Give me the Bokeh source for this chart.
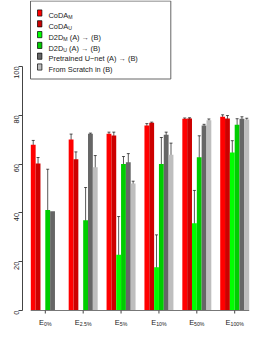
import math
from bokeh.plotting import figure
from bokeh.models import ColumnDataSource, LinearAxis, FixedTicker, Whisker, TeeHead, Range1d
from bokeh.core.properties import value
from bokeh.embed import file_html
from bokeh.resources import INLINE

NaN = float("nan")

# ---------------- data ----------------
group_subs = ["0%", "2.5%", "5%", "10%", "50%", "100%"]

coda_m = [67.9, 70.1, 72.4, 75.8, 78.6, 79.4]
coda_m_err = [1.8, 2.2, 0.7, 0.8, 0.3, 0.8]
coda_u = [60.2, 62.0, 71.7, 76.9, 78.7, 78.7]
coda_u_err = [2.5, 3.0, 1.4, 0.3, 0.3, 1.2]
d2d_m = [NaN, NaN, 22.8, 17.7, 35.8, 64.8]
d2d_m_err = [NaN, NaN, 15.7, 13.3, 13.4, 4.8]
d2d_u = [41.2, 37.0, 60.0, 60.0, 62.8, 76.1]
d2d_u_err = [16.7, 13.4, 3.1, 10.9, 8.8, 2.5]
pretrained = [40.7, 72.4, 60.8, 72.0, 75.8, 78.6]
pretrained_err = [0.0, 0.3, 3.5, 1.1, 0.5, 0.8]
scratch = [NaN, 58.7, 52.0, 63.8, 78.0, 78.3]
scratch_err = [NaN, 4.8, 1.0, 4.8, 0.5, 0.5]

series_values = [coda_m, coda_u, d2d_m, d2d_u, pretrained, scratch]
series_errors = [coda_m_err, coda_u_err, d2d_m_err, d2d_u_err, pretrained_err, scratch_err]
series_colors = ["#FF0000", "#CD0000", "#00FF00", "#00CD00", "#666666", "#BEBEBE"]
# legend labels: (main, subscript, tail)
legend_parts = [("CoDA", "M", ""), ("CoDA", "U", ""),
                ("D2D", "M", "(A) \u2192 (B)"), ("D2D", "U", "(A) \u2192 (B)"),
                ("Pretrained U\u2212net (A) \u2192 (B)", "", ""),
                ("From Scratch in (B)", "", "")]
y_ticks = [0, 20, 40, 60, 80, 100]

# ---------------- geometry ----------------
W, H = 250, 328
FRAME_L = 22
PX_PER_X = 37.88
PX_PER_Y = 2.44
G1_PX = 44.8
TOP100_PX = 66
X0 = 1 - (G1_PX - FRAME_L) / PX_PER_X
X1 = X0 + (W - FRAME_L) / PX_PER_X
Y1 = 100 + TOP100_PX / PX_PER_Y
Y0 = Y1 - H / PX_PER_Y
BAR_W = 4.83 / PX_PER_X
FONT = "Liberation Sans"
FS_MAIN = 7.4
FS_SUB = 5.2

def px2x(fx):
    return X0 + (fx - FRAME_L) / PX_PER_X

def px2y(fy):
    return Y1 - fy / PX_PER_Y

ARIAL = {'0': 556, '1': 556, '2': 556, '5': 556, '%': 889, '.': 278, 'E': 667, 'C': 722,
         'o': 556, 'D': 722, 'A': 667, 'M': 833, 'U': 722, ' ': 278}

def tw(s, fs):
    return sum(ARIAL.get(c, 556) for c in s) / 1000.0 * fs

p = figure(width=W, height=H, output_backend="svg", toolbar_location=None,
           x_axis_type=None, y_axis_type=None,
           x_range=Range1d(X0, X1), y_range=Range1d(Y0, Y1),
           min_border_left=FRAME_L, min_border_right=0, min_border_top=0, min_border_bottom=0)
p.outline_line_color = None
p.xgrid.visible = False
p.ygrid.visible = False
p.background_fill_color = "white"
p.border_fill_color = "white"

n_groups = len(group_subs)
centers = [g + 1 for g in range(n_groups)]

# bars + error bars
for j, (vals, errs, col) in enumerate(zip(series_values, series_errors, series_colors)):
    xs, tops = [], []
    ex, eu, el = [], [], []
    for g in range(n_groups):
        v = vals[g]
        if v != v:
            continue
        x = centers[g] + (j - 2.5) * BAR_W
        xs.append(x)
        tops.append(v)
        e = errs[g]
        if e == e and e > 0:
            ex.append(x)
            eu.append(v + e)
            el.append(v - e)
    p.vbar(x=xs, top=tops, bottom=0, width=BAR_W, fill_color=col, line_color=None)
    if ex:
        esrc = ColumnDataSource(dict(x=ex, upper=eu, lower=el))
        w = Whisker(source=esrc, base="x", upper="upper", lower="lower",
                    line_color="black", line_alpha=0.65, line_width=1,
                    upper_head=TeeHead(size=3, line_color="black", line_alpha=0.65, line_width=1),
                    lower_head=TeeHead(size=3, line_color="black", line_alpha=0.65, line_width=1))
        p.add_layout(w)

# y axis
yax = LinearAxis(ticker=FixedTicker(ticks=y_ticks), bounds=(0, 100))
yax.axis_line_color = "#444444"
yax.major_tick_line_color = "#444444"
yax.major_tick_out = 4
yax.major_tick_in = 0
yax.minor_tick_out = 0
yax.minor_tick_in = 0
yax.major_label_standoff = 2
yax.major_label_orientation = math.pi / 2
yax.major_label_text_font = FONT
yax.major_label_text_font_size = "7.4px"
yax.major_label_text_color = "#222222"
p.add_layout(yax, "left")

# x axis line and ticks
left_edge = centers[0] - 3 * BAR_W
right_edge = centers[-1] + 3 * BAR_W
y_zero_px = TOP100_PX + 100 * PX_PER_Y
p.segment(x0=[left_edge], y0=[0], x1=[right_edge], y1=[0], line_color="#777777", line_width=1)
p.segment(x0=centers, y0=[0] * n_groups, x1=centers, y1=[px2y(y_zero_px + 3)] * n_groups,
          line_color="#444444", line_width=1)

# x labels: E with subscript
ex_x, ex_t, sx_x, sx_t = [], [], [], []
for g, sub in enumerate(group_subs):
    total = tw("E", FS_MAIN) + tw(sub, FS_SUB)
    start = centers[g] - (total / 2) / PX_PER_X
    ex_x.append(start)
    ex_t.append("E")
    sx_x.append(start + tw("E", FS_MAIN) / PX_PER_X)
    sx_t.append(sub)
p.text(x=ex_x, y=[px2y(y_zero_px + 11.7)] * n_groups, text=ex_t, text_font=value(FONT),
       text_font_size=value("7.4px"), text_baseline="alphabetic", text_align="left",
       text_color="#222222")
p.text(x=sx_x, y=[px2y(y_zero_px + 13.2)] * n_groups, text=sx_t, text_font=value(FONT),
       text_font_size=value("5.2px"), text_baseline="alphabetic", text_align="left",
       text_color="#222222")

# legend (drawn manually so that subscripts are possible)
p.quad(left=[px2x(30)], right=[px2x(170.3)], top=[px2y(0.5)], bottom=[px2y(78.5)],
       fill_color="white", line_color="#666666", line_width=1)
row_y = [12.5 + 10.8 * i for i in range(len(legend_parts))]
p.quad(left=[px2x(37)] * 6, right=[px2x(41.4)] * 6,
       top=[px2y(y - 3.1) for y in row_y], bottom=[px2y(y + 3.1) for y in row_y],
       fill_color=series_colors, line_color="black", line_width=0.7)
mx, my, mt, sxx, syy, stt = [], [], [], [], [], []
for (main, sub, tail), yc in zip(legend_parts, row_y):
    xpx = 48
    mx.append(px2x(xpx)); my.append(px2y(yc + 2.7)); mt.append(main)
    if sub:
        sx = xpx + tw(main, FS_MAIN)
        sxx.append(px2x(sx)); syy.append(px2y(yc + 4.2)); stt.append(sub)
        if tail:
            tx = sx + tw(sub, FS_SUB) + tw(" ", FS_MAIN)
            mx.append(px2x(tx)); my.append(px2y(yc + 2.7)); mt.append(tail)
p.text(x=mx, y=my, text=mt, text_font=value(FONT), text_font_size=value("7.4px"),
       text_baseline="alphabetic", text_align="left", text_color="#222222")
p.text(x=sxx, y=syy, text=stt, text_font=value(FONT), text_font_size=value("5.2px"),
       text_baseline="alphabetic", text_align="left", text_color="#222222")

open("out.html", "w").write(file_html(p, INLINE))
